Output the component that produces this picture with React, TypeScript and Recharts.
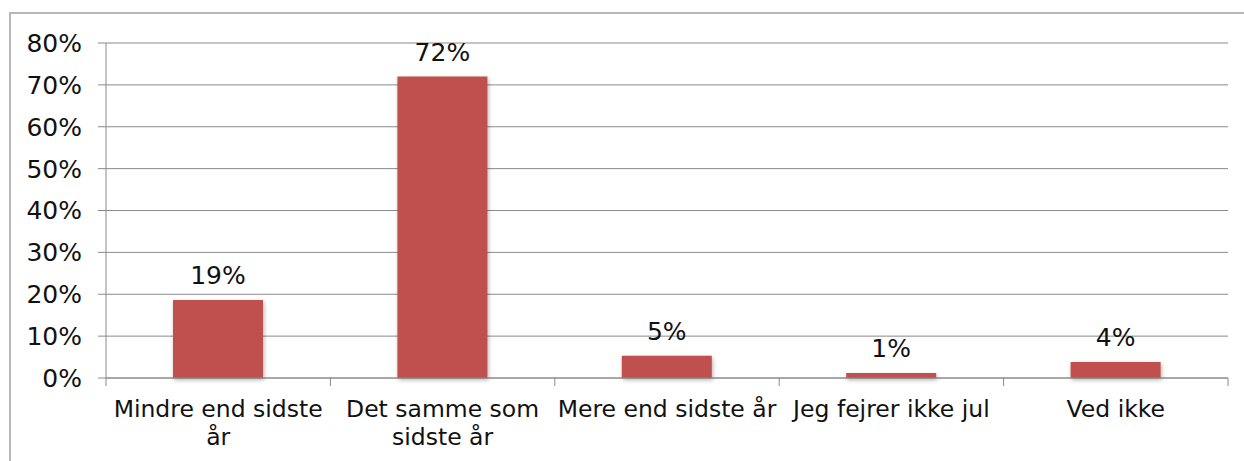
import { BarChart, Bar, XAxis, YAxis, CartesianGrid, LabelList, Cell } from 'recharts';

const categories = [
  'Mindre end sidste\når',
  'Det samme som\nsidste år',
  'Mere end sidste år',
  'Jeg fejrer ikke jul',
  'Ved ikke',
];
const shares = [18.6, 72.0, 5.3, 1.2, 3.8];
const yTicks = [0, 10, 20, 30, 40, 50, 60, 70, 80];

const data = categories.map((name, i) => ({ name, value: shares[i] }));

const WIDTH = 1244;
const HEIGHT = 461;
const Y_AXIS_W = 106;
const RIGHT = 16;
const BAND = (WIDTH - Y_AXIS_W - RIGHT) / categories.length;
const FONT = '"DejaVu Sans", Verdana, sans-serif';
const FONT_SIZE = 23.5;
const NUM_SIZE = 25; // percent labels run a bit wider in the original
const GRID = '#8a8a8a';
const BAR = '#c0504d';

// x ticks sit on category boundaries, like the original spreadsheet chart
function CategoryTick(props: any) {
  const { x, y, payload, index } = props;
  const lines = String(payload.value).split('\n');
  const left = x - BAND / 2;
  return (
    <g>
      <line x1={left} x2={left} y1={y - 8} y2={y} stroke={GRID} strokeWidth={1} />
      {index === categories.length - 1 && (
        <line x1={left + BAND} x2={left + BAND} y1={y - 8} y2={y} stroke={GRID} strokeWidth={1} />
      )}
      <text x={x} y={y} textAnchor="middle" fill="#111" fontSize={FONT_SIZE} fontFamily={FONT}>
        {lines.map((line, i) => (
          <tspan key={i} x={x} dy={i === 0 ? 31 : 28}>
            {line}
          </tspan>
        ))}
      </text>
    </g>
  );
}

export default function App() {
  return (
    <div style={{ position: 'absolute', left: 0, top: 0, width: WIDTH, height: HEIGHT, overflow: 'hidden', background: '#fff' }}>
      <div
        style={{
          position: 'absolute',
          left: 9,
          top: 12,
          width: WIDTH,
          height: HEIGHT,
          borderTop: '2px solid #b8b8b8',
          borderLeft: '2px solid #b8b8b8',
        }}
      />
      <div style={{ position: 'absolute', left: 0, top: 0 }}>
        <BarChart
          width={WIDTH}
          height={HEIGHT}
          data={data}
          margin={{ top: 43, right: RIGHT, bottom: 0, left: 0 }}
          barCategoryGap={0}
        >
          <CartesianGrid vertical={false} stroke={GRID} strokeWidth={1} />
          <XAxis
            dataKey="name"
            height={83}
            interval={0}
            axisLine={{ stroke: GRID }}
            tickLine={false}
            tickSize={8}
            tickMargin={0}
            tick={<CategoryTick />}
          />
          <YAxis
            width={Y_AXIS_W}
            domain={[0, 80]}
            ticks={yTicks}
            interval={0}
            tickFormatter={(v: number) => `${v}%`}
            axisLine={{ stroke: GRID }}
            tickLine={{ stroke: GRID }}
            tickSize={8}
            tickMargin={16}
            tick={{ fill: '#111', fontSize: NUM_SIZE, fontFamily: FONT }}
          />
          <Bar dataKey="value" fill={BAR} barSize={90} isAnimationActive={false}>
            {data.map((_, i) => (
              <Cell key={`cell-${i}`} fill={BAR} style={{ filter: 'drop-shadow(1px 2px 2px rgba(0,0,0,0.3))' }} />
            ))}
            <LabelList
              dataKey="value"
              position="top"
              offset={16}
              formatter={(v: any) => `${Math.round(Number(v))}%`}
              fill="#111"
              fontSize={NUM_SIZE}
              fontFamily={FONT}
            />
          </Bar>
        </BarChart>
      </div>
    </div>
  );
}
